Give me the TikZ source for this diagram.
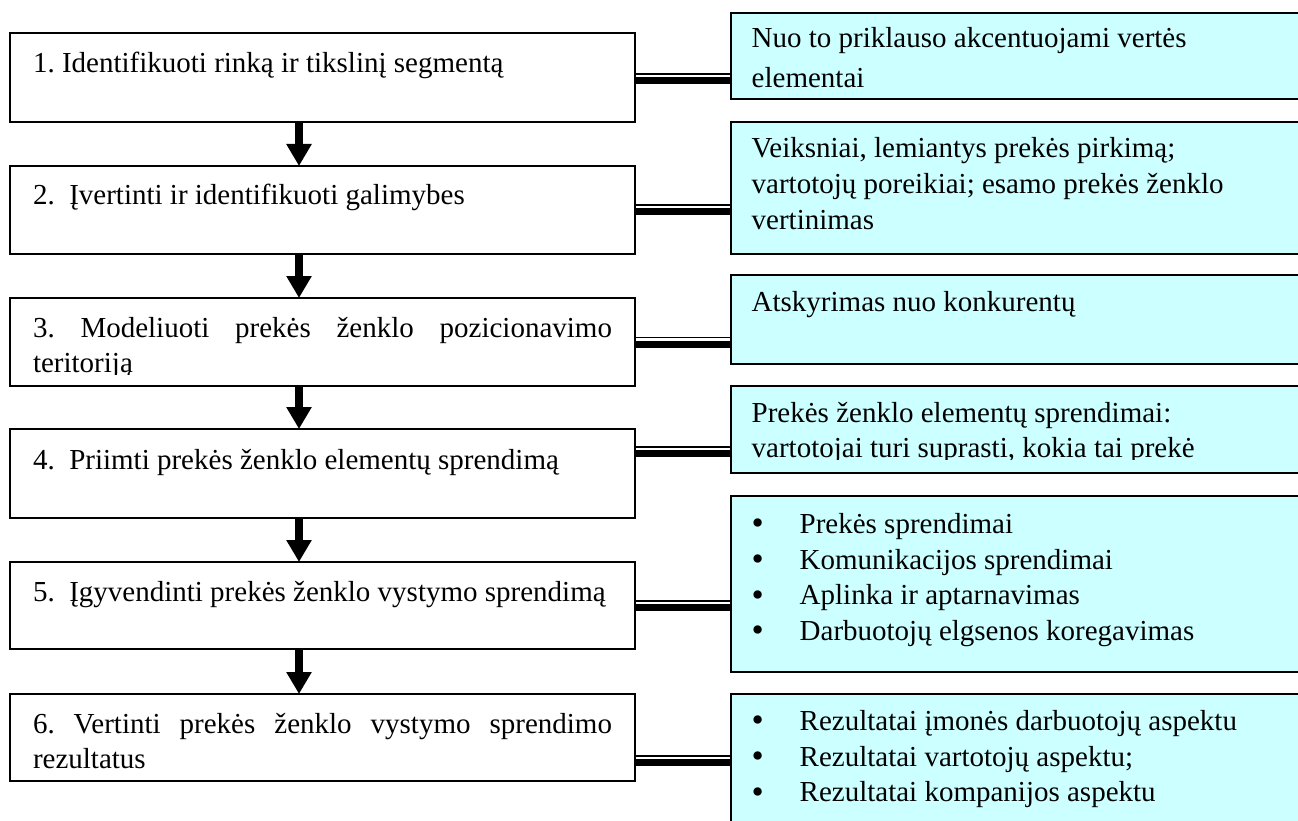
\documentclass[tikz,border=0pt]{standalone}
\usepackage{fontspec}
\usepackage{graphicx}
\setmainfont{Liberation Serif}
\usetikzlibrary{arrows.meta}
\definecolor{notefill}{RGB}{204,255,255}
\frenchspacing
\newcommand{\itemdot}{\makebox[48pt][l]{\raisebox{-1.2pt}{\scalebox{1.2}{•}}}}
\begin{document}
\begin{tikzpicture}[x=1pt,y=-1pt,
  stepbox/.style={draw=black, line width=1.8pt, fill=white, rectangle,
    inner sep=0pt, outer sep=0pt, anchor=north west, minimum width=625pt},
  notebox/.style={stepbox, fill=notefill, minimum width=600pt},
  txt/.style={anchor=base west, inner sep=0pt, outer sep=0pt,
    font=\fontsize{29}{35}\selectfont},
  flow/.style={line width=8pt, -{Triangle[width=24pt,length=22pt]}},
  linkthin/.style={line width=1.5pt},
  linkthick/.style={line width=7pt}]

% page frame
\clip (0,0) rectangle (1298,821);
\fill[white] (0,0) rectangle (1298,821);

% process steps
\node[stepbox, minimum height=89pt] (L1) at (10,33) {};
\node[stepbox, minimum height=88pt] (L2) at (10,166) {};
\node[stepbox, minimum height=88pt] (L3) at (10,298) {};
\node[stepbox, minimum height=89pt] (L4) at (10,429) {};
\node[stepbox, minimum height=87pt] (L5) at (10,562) {};
\node[stepbox, minimum height=87pt] (L6) at (10,694) {};

% notes on the right
\node[notebox, minimum height=86.3pt] (R1) at (730.7,12.7) {};
\node[notebox, minimum height=132pt] (R2) at (730.7,122) {};
\node[notebox, minimum height=89pt] (R3) at (730.7,275) {};
\node[notebox, minimum height=87pt] (R4) at (730.7,386) {};
\node[notebox, minimum height=176pt] (R5) at (730.7,496) {};
\node[notebox, minimum height=160pt] (R6) at (730.7,694) {};

% downward flow between steps
\coordinate (ax) at (299,0);
\draw[flow] (L1.south -| ax) -- (L2.north -| ax);
\draw[flow] (L2.south -| ax) -- (L3.north -| ax);
\draw[flow] (L3.south -| ax) -- (L4.north -| ax);
\draw[flow] (L4.south -| ax) -- (L5.north -| ax);
\draw[flow] (L5.south -| ax) -- (L6.north -| ax);

% thin-thick links from steps to notes
\foreach \a/\b/\y in {L1/R1/74.2, L2/R2/205, L3/R3/337.7, L4/R4/447, L5/R5/601, L6/R6/756}{
  \coordinate (k) at (0,\y);
  \draw[linkthin] (\a.east |- k) -- (\b.west |- k);
  \coordinate (k) at (0,\y+6.3);
  \draw[linkthick] (\a.east |- k) -- (\b.west |- k);
}

% step texts
\node[txt] (t1) at (33,72.5) {1. Identifikuoti rinką ir tikslinį segmentą};
\node[txt] (t2) at (33,205) {2.\ \ Įvertinti ir identifikuoti galimybes};
\begin{scope}
  \clip (10,298) rectangle (635,374);
  \node[txt] (t3) at (33,337) {\parbox[t]{579pt}{\makebox[579pt][s]{3. Modeliuoti prekės ženklo pozicionavimo}\\teritoriją}};
\end{scope}
\node[txt] (t4) at (33,469) {4.\ \ Priimti prekės ženklo elementų sprendimą};
\node[txt] (t5) at (33,601) {5.\ \ Įgyvendinti prekės ženklo vystymo sprendimą};
\node[txt] (t6) at (33,733) {\parbox[t]{579pt}{\makebox[579pt][s]{6. Vertinti prekės ženklo vystymo sprendimo}\\rezultatus}};

% note texts
\node[txt] (n1) at (751.7,48) {\parbox[t]{540pt}{\raggedright\baselineskip=40pt Nuo to priklauso akcentuojami vertės\\elementai}};
\node[txt] (n2) at (751.7,158) {\parbox[t]{540pt}{\raggedright\baselineskip=36pt Veiksniai, lemiantys prekės pirkimą;\\vartotojų poreikiai; esamo prekės ženklo\\vertinimas}};
\node[txt] (n3) at (751.7,311) {Atskyrimas nuo konkurentų};
\begin{scope}
  \clip (730.7,386) rectangle (1298,459);
  \node[txt] (n4) at (751.7,422) {\parbox[t]{540pt}{\raggedright\baselineskip=35pt Prekės ženklo elementų sprendimai:\\vartotojai turi suprasti, kokia tai prekė}};
\end{scope}
\node[txt] (n5) at (751.7,533.5) {\parbox[t]{540pt}{\raggedright\baselineskip=35.7pt
  \itemdot Prekės sprendimai\\
  \itemdot Komunikacijos sprendimai\\
  \itemdot Aplinka ir aptarnavimas\\
  \itemdot Darbuotojų elgsenos koregavimas}};
\node[txt] (n6) at (751.7,730.5) {\parbox[t]{540pt}{\raggedright\baselineskip=35.7pt
  \itemdot Rezultatai įmonės darbuotojų aspektu\\
  \itemdot Rezultatai vartotojų aspektu;\\
  \itemdot Rezultatai kompanijos aspektu}};
\end{tikzpicture}
\end{document}
